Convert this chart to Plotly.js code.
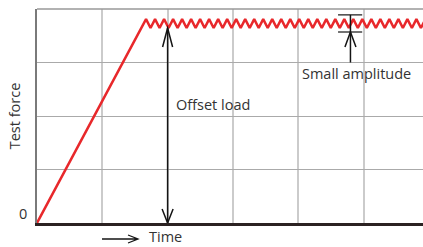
<!DOCTYPE html>
<html>
<head>
<meta charset="utf-8">
<script src="https://cdn.plot.ly/plotly-3.0.1.min.js"></script>
<style>html,body{margin:0;padding:0;background:#fff;}#chart{width:423px;height:247px;}</style>
</head>
<body>
<div id="chart"></div>
<script>
// Test force vs time: linear ramp to the offset load, then small-amplitude oscillation
var timeVals = [0, 1.670, 1.739, 1.808, 1.877, 1.946, 2.015, 2.084, 2.153, 2.222, 2.291,
  2.360, 2.429, 2.498, 2.567, 2.636, 2.705, 2.774, 2.843, 2.912, 2.981,
  3.050, 3.119, 3.188, 3.257, 3.326, 3.395, 3.464, 3.533, 3.602, 3.671,
  3.740, 3.809, 3.878, 3.947, 4.016, 4.085, 4.154, 4.223, 4.292, 4.361,
  4.430, 4.499, 4.568, 4.637, 4.706, 4.775, 4.844, 4.913, 4.982, 5.051,
  5.120, 5.189, 5.258, 5.327, 5.396, 5.465, 5.534, 5.603, 5.672, 5.741,
  5.810, 5.879, 5.948];
var forceVals = [0, 3.81, 3.645, 3.81, 3.645, 3.81, 3.645, 3.81, 3.645, 3.81, 3.645,
  3.81, 3.645, 3.81, 3.645, 3.81, 3.645, 3.81, 3.645, 3.81, 3.645,
  3.81, 3.645, 3.81, 3.645, 3.81, 3.645, 3.81, 3.645, 3.81, 3.645,
  3.81, 3.645, 3.81, 3.645, 3.81, 3.645, 3.81, 3.645, 3.81, 3.645,
  3.81, 3.645, 3.81, 3.645, 3.81, 3.645, 3.81, 3.645, 3.81, 3.645,
  3.81, 3.645, 3.81, 3.645, 3.81, 3.645, 3.81, 3.645, 3.81, 3.645,
  3.81, 3.645, 3.81];
// annotation values
var offsetLoadTime = 2.0;
var offsetLoadValue = 3.645;
var ampTime = 4.80;
var ampTop = 3.89;
var ampBottom = 3.57;
var ampLineFrom = 4.61;
var ampLineTo = 4.98;
var ampStemEnd = 3.0;
var yTickVals = [0, 1, 2, 3, 4];
var yTickText = ['0', '', '', '', ''];
var xTickVals = [0, 1, 2, 3, 4, 5];

var txtFont = {family: 'Open Sans, sans-serif', size: 14.5, color: '#333333'};
var arrowCol = '#141414';

var trace = {
  x: timeVals, y: forceVals, type: 'scatter', mode: 'lines',
  line: {color: '#e8282b', width: 2.5}, hoverinfo: 'skip', cliponaxis: true
};

var layout = {
  width: 423, height: 247,
  margin: {l: 37, r: 0, t: 9, b: 24, pad: 0},
  paper_bgcolor: '#ffffff', plot_bgcolor: '#ffffff',
  showlegend: false,
  font: txtFont,
  xaxis: {
    range: [0, 5.911], tickvals: xTickVals, showticklabels: false, ticks: '',
    showgrid: true, gridcolor: '#cbcbcb', gridwidth: 2, zeroline: false,
    showline: true, linecolor: '#2b2222', linewidth: 3, fixedrange: true
  },
  yaxis: {
    range: [0, 4], tickvals: yTickVals, ticktext: yTickText, showticklabels: false, ticks: '',
    showgrid: true, gridcolor: '#aaaaaa', gridwidth: 1, zeroline: false,
    showline: true, linecolor: '#7a7a7a', linewidth: 2, fixedrange: true,
    title: {text: 'Test force', font: txtFont, standoff: 11}
  },
  shapes: [
    // top border
    {type: 'line', xref: 'paper', yref: 'paper', x0: 0, x1: 1, y0: 1, y1: 1,
     line: {color: '#999999', width: 1.5}},
    // offset load shaft + heads
    {type: 'line', xref: 'x', yref: 'y', x0: offsetLoadTime, x1: offsetLoadTime, y0: 0, y1: offsetLoadValue,
     line: {color: arrowCol, width: 1.5}},
    {type: 'path', xref: 'x', yref: 'y', xsizemode: 'pixel', ysizemode: 'pixel',
     xanchor: offsetLoadTime, yanchor: offsetLoadValue, path: 'M -5 -19 L 0 0 L 5 -19',
     line: {color: arrowCol, width: 1.5}},
    {type: 'path', xref: 'x', yref: 'y', xsizemode: 'pixel', ysizemode: 'pixel',
     xanchor: offsetLoadTime, yanchor: 0, path: 'M -5.5 14 L 0 0 L 5.5 14',
     line: {color: arrowCol, width: 1.5}},
    // small amplitude marker
    {type: 'line', xref: 'x', yref: 'y', x0: ampLineFrom, x1: ampLineTo, y0: ampTop, y1: ampTop,
     line: {color: arrowCol, width: 1.2}},
    {type: 'line', xref: 'x', yref: 'y', x0: ampLineFrom, x1: ampLineTo, y0: ampBottom, y1: ampBottom,
     line: {color: arrowCol, width: 1.2}},
    {type: 'line', xref: 'x', yref: 'y', x0: ampTime, x1: ampTime, y0: ampStemEnd, y1: ampTop,
     line: {color: arrowCol, width: 1.5}},
    {type: 'path', xref: 'x', yref: 'y', xsizemode: 'pixel', ysizemode: 'pixel',
     xanchor: ampTime, yanchor: ampBottom, path: 'M -5.5 -15 L 0 0 L 5.5 -15',
     line: {color: arrowCol, width: 1.5}},
    // time arrow below axis
    {type: 'path', xref: 'paper', yref: 'paper', xsizemode: 'pixel', ysizemode: 'pixel',
     xanchor: 0.2617, yanchor: -0.0748, path: 'M -36 0 L 0 0 M -10 4 L 0 0 L -10 -4',
     line: {color: arrowCol, width: 1.3}}
  ],
  annotations: [
    {text: '0', xref: 'x', yref: 'y', x: 0, y: 0, xanchor: 'right', yanchor: 'bottom',
     xshift: -8, yshift: -2, showarrow: false, font: txtFont},
    {text: 'Offset load', xref: 'x', yref: 'y', x: 2.10, y: 2.22, xanchor: 'left', yanchor: 'middle',
     showarrow: false, font: txtFont},
    {text: 'Small amplitude', xref: 'x', yref: 'y', x: 4.02, y: 2.80, xanchor: 'left', yanchor: 'middle',
     showarrow: false, font: txtFont},
    {text: 'Time', xref: 'paper', yref: 'paper', x: 0.2876, y: -0.0654, xanchor: 'left', yanchor: 'middle',
     borderpad: 0, showarrow: false, font: txtFont}
  ]
};

Plotly.newPlot('chart', [trace], layout, {staticPlot: true, displayModeBar: false});
</script>
</body>
</html>
